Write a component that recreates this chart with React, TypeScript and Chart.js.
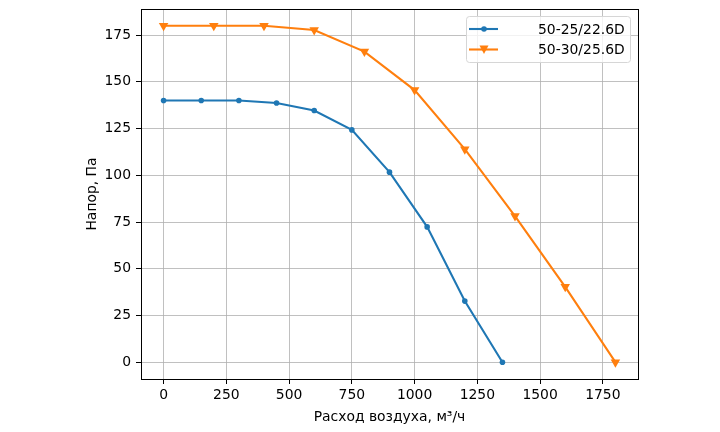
import React, { useEffect, useRef } from "react";
import { Chart, registerables } from "chart.js";

Chart.register(...registerables);

const seriesANames = "50-25/22.6D";
const seriesBNames = "50-30/25.6D";
const seriesAX = [0, 150, 300, 450, 600, 750, 900, 1050, 1200, 1350];
const seriesAY = [140, 140, 140, 138.7, 134.7, 124.3, 101.7, 72.4, 32.7, 0];
const seriesBX = [0, 200, 400, 600, 800, 1000, 1200, 1400, 1600, 1800];
const seriesBY = [180, 180, 180, 177.8, 166.2, 145.6, 114, 78.2, 40.3, 0];
const xTicks = [0, 250, 500, 750, 1000, 1250, 1500, 1750];
const yTicks = [0, 25, 50, 75, 100, 125, 150, 175];
const xTitle = "Расход воздуха, м³/ч";
const yTitle = "Напор, Па";

const BLUE = "#1f77b4";
const ORANGE = "#ff7f0e";
const FONT = "'DejaVu Sans', sans-serif";

const framePlugin = {
  id: "frame",
  afterDraw(chart: any) {
    const { ctx, chartArea: a } = chart;
    ctx.save();
    ctx.strokeStyle = "#000";
    ctx.lineWidth = 1;
    ctx.strokeRect(Math.round(a.left) + 0.5, Math.round(a.top) + 0.5, Math.round(a.right - a.left), Math.round(a.bottom - a.top));
    // legend
    const bx = 466, by = 16, bw = 164, bh = 46;
    ctx.globalAlpha = 0.8;
    ctx.fillStyle = "#fff";
    ctx.beginPath();
    (ctx as any).roundRect(bx + 0.5, by + 0.5, bw, bh, 3);
    ctx.fill();
    ctx.globalAlpha = 1;
    ctx.strokeStyle = "#d6d6d6";
    ctx.stroke();
    const rows = [
      { label: seriesANames, color: BLUE, tri: false, y: 29 },
      { label: seriesBNames, color: ORANGE, tri: true, y: 49.5 },
    ];
    ctx.font = `13.9px ${FONT}`;
    ctx.textBaseline = "middle";
    ctx.textAlign = "left";
    for (const r of rows) {
      ctx.strokeStyle = r.color;
      ctx.lineWidth = 2.1;
      ctx.beginPath();
      ctx.moveTo(469, r.y);
      ctx.lineTo(498, r.y);
      ctx.stroke();
      ctx.fillStyle = r.color;
      ctx.beginPath();
      if (r.tri) {
        ctx.moveTo(484 - 4.5, r.y - 4);
        ctx.lineTo(484 + 4.5, r.y - 4);
        ctx.lineTo(484, r.y + 4.5);
        ctx.closePath();
      } else {
        ctx.arc(484, r.y, 2.8, 0, Math.PI * 2);
      }
      ctx.fill();
      ctx.fillStyle = "#000";
      ctx.fillText(r.label, 538, r.y + 1);
    }
    ctx.restore();
  },
};

export default function App() {
  const ref = useRef<HTMLCanvasElement>(null);
  useEffect(() => {
    const chart = new Chart(ref.current!, {
      type: "line",
      data: {
        datasets: [
          {
            label: seriesANames,
            data: seriesAX.map((x, i) => ({ x, y: seriesAY[i] })),
            borderColor: BLUE,
            backgroundColor: BLUE,
            borderWidth: 2.1,
            pointRadius: 2.8,
            pointBorderWidth: 0,
            pointStyle: "circle",
            tension: 0,
          },
          {
            label: seriesBNames,
            data: seriesBX.map((x, i) => ({ x, y: seriesBY[i] })),
            borderColor: ORANGE,
            backgroundColor: ORANGE,
            borderWidth: 2.1,
            pointRadius: 5.5,
            pointBorderWidth: 0,
            pointStyle: "triangle",
            rotation: 180,
            tension: 0,
          },
        ],
      },
      options: {
        responsive: false,
        animation: false,
        events: [],
        layout: { padding: { left: 84, top: 9, right: 82, bottom: 6 } },
        plugins: { legend: { display: false }, tooltip: { enabled: false } },
        scales: {
          x: {
            type: "linear",
            min: -90,
            max: 1890,
            afterBuildTicks: (s: any) => {
              s.ticks = xTicks.map((v) => ({ value: v }));
            },
            afterFit: (s: any) => {
              s.height = 432 - 6 - 379;
              s.paddingLeft = 0;
              s.paddingRight = 0;
            },
            grid: { color: "#b0b0b0", lineWidth: 0.8, tickColor: "#000", tickLength: 5, tickWidth: 1 },
            border: { display: true, color: "#000", width: 1 },
            ticks: { color: "#000", font: { family: FONT, size: 13.9 }, padding: 3, maxRotation: 0, autoSkip: false, callback: (v: any) => String(v) },
            title: { display: true, text: xTitle, color: "#000", font: { family: FONT, size: 13.9, lineHeight: 1.2 }, padding: { top: 0, bottom: 0 } },
          },
          y: {
            type: "linear",
            min: -9,
            max: 189,
            afterBuildTicks: (s: any) => {
              s.ticks = yTicks.map((v) => ({ value: v }));
            },
            afterFit: (s: any) => {
              s.width = 141 - 84;
              s.paddingTop = 0;
              s.paddingBottom = 0;
            },
            grid: { color: "#b0b0b0", lineWidth: 0.8, tickColor: "#000", tickLength: 5, tickWidth: 1 },
            border: { display: true, color: "#000", width: 1 },
            ticks: { color: "#000", font: { family: FONT, size: 13.9 }, padding: 5, autoSkip: false, callback: (v: any) => String(v) },
            title: { display: true, text: yTitle, color: "#000", font: { family: FONT, size: 13.9, lineHeight: 1.2 }, padding: { top: 0, bottom: 0 } },
          },
        },
      },
      plugins: [framePlugin],
    } as any);
    return () => chart.destroy();
  }, []);
  return (
    <div style={{ position: "absolute", left: 0, top: 0, width: 720, height: 432, background: "#fff" }}>
      <canvas ref={ref} width={720} height={432} />
    </div>
  );
}
